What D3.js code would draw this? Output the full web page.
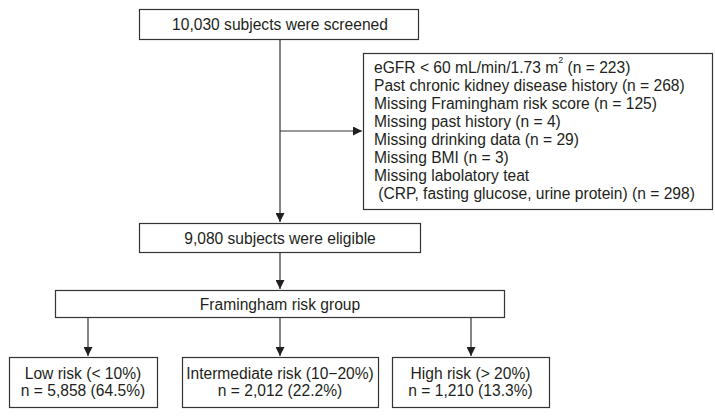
<!DOCTYPE html>
<html>
<head>
<meta charset="utf-8">
<script src="https://cdn.jsdelivr.net/npm/d3@7"></script>
<style>
html,body{margin:0;padding:0;background:#fff;}
svg{display:block;}
text{font-family:"Liberation Sans",Arial,sans-serif;fill:#231f20;}
</style>
</head>
<body>
<svg id="chart" width="715" height="417"></svg>
<script>
// ---- data ----
const screenedLabel = "10,030 subjects were screened";
const exclusionLabels = [
  ["eGFR < 60 mL/min/1.73 m", "2", " (n = 223)"],
  ["Past chronic kidney disease history (n = 268)"],
  ["Missing Framingham risk score (n = 125)"],
  ["Missing past history (n = 4)"],
  ["Missing drinking data (n = 29)"],
  ["Missing BMI (n = 3)"],
  ["Missing labolatory teat"],
  [" (CRP, fasting glucose, urine protein) (n = 298)"]
];
const eligibleLabel = "9,080 subjects were eligible";
const groupLabel = "Framingham risk group";
const riskCategories = ["Low risk (< 10%)", "Intermediate risk (10\u221220%)", "High risk (> 20%)"];
const riskCounts = [5858, 2012, 1210];
const riskPercents = [64.5, 22.2, 13.3];

// ---- drawing ----
const svg = d3.select("#chart");
const stroke = "#333";
const fs = 15.6;
const fmt = d3.format(",");

svg.append("defs").append("marker")
  .attr("id", "arr").attr("viewBox", "0 0 10 10")
  .attr("refX", 10).attr("refY", 5)
  .attr("markerWidth", 9).attr("markerHeight", 9)
  .attr("markerUnits", "userSpaceOnUse")
  .attr("orient", "auto")
  .append("path").attr("d", "M0,0 L10,5 L0,10 Z").attr("fill", "#231f20");

function box(x, y, w, h) {
  svg.append("rect").attr("x", x + 0.5).attr("y", y + 0.5)
    .attr("width", w).attr("height", h)
    .attr("fill", "#fff").attr("stroke", stroke).attr("stroke-width", 1.2);
}
function line(x1, y1, x2, y2, arrow) {
  const l = svg.append("line").attr("x1", x1).attr("y1", y1).attr("x2", x2).attr("y2", y2)
    .attr("stroke", stroke).attr("stroke-width", 1.2);
  if (arrow) l.attr("marker-end", "url(#arr)");
}
function label(x, y, t) {
  svg.append("text").attr("x", x).attr("y", y).attr("text-anchor", "middle")
    .attr("dominant-baseline", "central").attr("font-size", fs).text(t);
}

const cx = 280;
// flow lines
line(cx, 39, cx, 222, true);
line(cx, 131, 362, 131, true);
line(cx, 253, cx, 289, true);

// box 1
box(139, 9, 279, 30);
label(cx, 24.5, screenedLabel);

// exclusion box
box(363, 53, 349, 156);
const exY = d3.scaleLinear().domain([0, exclusionLabels.length - 1]).range([67, 193]);
exclusionLabels.forEach((parts, i) => {
  const t = svg.append("text").attr("x", 374).attr("y", exY(i))
    .attr("dominant-baseline", "central").attr("font-size", fs)
    .attr("xml:space", "preserve").style("white-space", "pre");
  if (parts.length === 3) {
    t.append("tspan").text(parts[0]);
    t.append("tspan").attr("font-size", 9).attr("dy", -7).text(parts[1]);
    t.append("tspan").attr("dy", 7).text(parts[2]);
  } else {
    t.text(parts[0]);
  }
});

// eligible box
box(139, 223, 281, 29);
label(cx, 238, eligibleLabel);

// group box
box(55, 290, 449, 27);
label(cx, 304, groupLabel);

// risk boxes
const riskBoxes = [[9, 148], [182, 196], [392, 157]];
const arrowX = [88, cx, 471];
riskCategories.forEach((c, i) => {
  line(arrowX[i], 318, arrowX[i], 356, true);
  const [bx, bw] = riskBoxes[i];
  box(bx, 357, bw, 50);
  const mx = bx + bw / 2;
  label(mx, 373, c);
  label(mx, 390, `n = ${fmt(riskCounts[i])} (${riskPercents[i].toFixed(1)}%)`);
});
</script>
</body>
</html>
